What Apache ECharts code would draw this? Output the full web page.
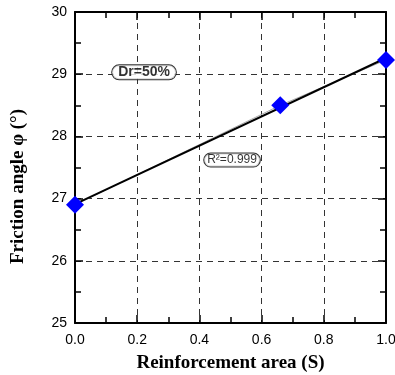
<!DOCTYPE html>
<html><head><meta charset="utf-8">
<script src="https://cdn.jsdelivr.net/npm/echarts@6/dist/echarts.min.js"></script>
<style>html,body{margin:0;padding:0;background:#fff}#c{width:395px;height:375px}</style>
</head><body><div id="c"></div>
<script>
const xVals = [0.0, 0.66, 1.0];
const yVals = [26.9, 28.5, 29.23];
const fitX = [0.0, 1.0];
const fitY = [26.91, 29.26];
const notes = [
  {x: 0.222, y: 29.03, text: 'Dr=50%', bold: true},
  {x: 0.505, y: 27.62, text: 'R²=0.999', bold: false}
];

const chart = echarts.init(document.getElementById('c'), null, {renderer: 'canvas'});
const axisCommon = {
  axisLine: {show: true, onZero: false, lineStyle: {color: '#000', width: 2}},
  axisTick: {show: true, inside: true, length: 8, lineStyle: {color: '#000', width: 1.5}},
  minorTick: {show: true, splitNumber: 2, length: 6, lineStyle: {color: '#000', width: 1.5}}
};
chart.setOption({
  animation: false,
  grid: {left: 75, right: 9, top: 12, bottom: 52, outerBoundsMode: 'none', containLabel: false},
  xAxis: [
    Object.assign({
      type: 'value', min: 0, max: 1, interval: 0.2, position: 'bottom',
      name: 'Reinforcement area (S)', nameLocation: 'middle', nameGap: 31,
      nameTextStyle: {fontFamily: 'Liberation Serif', fontWeight: 'bold', fontSize: 19, color: '#000'},
      axisLabel: {margin: 10, fontFamily: 'Liberation Sans', fontSize: 14, color: '#000',
        formatter: v => v.toFixed(1)},
      splitLine: {show: true, lineStyle: {color: '#333', type: [6, 5], width: 1}}
    }, axisCommon),
    Object.assign({
      type: 'value', min: 0, max: 1, interval: 0.2, position: 'top',
      axisLabel: {show: false}, splitLine: {show: false}
    }, axisCommon)
  ],
  yAxis: [
    Object.assign({
      type: 'value', min: 25, max: 30, interval: 1, position: 'left',
      name: 'Friction angle φ (°)', nameLocation: 'middle', nameGap: 47,
      nameTextStyle: {fontFamily: 'Liberation Serif', fontWeight: 'bold', fontSize: 19, color: '#000',
        padding: [0, 38, 0, 0]},
      axisLabel: {margin: 8, fontFamily: 'Liberation Sans', fontSize: 14, color: '#000'},
      splitLine: {show: true, lineStyle: {color: '#333', type: [6, 5], width: 1}}
    }, axisCommon),
    Object.assign({
      type: 'value', min: 25, max: 30, interval: 1, position: 'right',
      axisLabel: {show: false}, splitLine: {show: false}
    }, axisCommon)
  ],
  series: [
    {
      type: 'line', data: xVals.map((x, i) => [x, yVals[i]]),
      symbol: 'none', lineStyle: {color: '#aaa', width: 1}, z: 2
    },
    {
      type: 'line', data: fitX.map((x, i) => [x, fitY[i]]),
      symbol: 'none', lineStyle: {color: '#000', width: 2}, z: 3
    },
    {
      type: 'scatter', data: xVals.map((x, i) => [x, yVals[i]]),
      symbol: 'diamond', symbolSize: 18, itemStyle: {color: '#0000FF', opacity: 1}, z: 5
    },
    {
      type: 'scatter', symbolSize: 0, z: 6,
      data: notes.map(n => ({
        value: [n.x, n.y],
        label: {
          show: true, position: 'inside', formatter: n.text,
          fontFamily: 'Liberation Sans', fontSize: n.bold ? 14 : 12, fontWeight: n.bold ? 'bold' : 'normal',
          lineHeight: n.bold ? 14 : 13,
          color: '#000', backgroundColor: '#fff', borderColor: '#000', borderWidth: 1,
          borderRadius: 7, padding: n.bold ? [0, 6, 0, 6] : [0, 3, 0, 3]
        }
      }))
    }
  ]
});
</script></body></html>
